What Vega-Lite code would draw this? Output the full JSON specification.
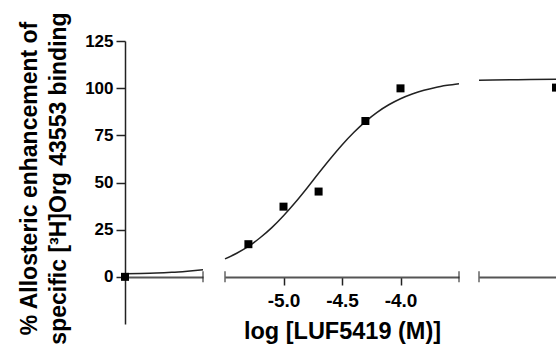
{
  "$schema": "https://vega.github.io/schema/vega-lite/v6.json",
  "autosize": {"type": "pad"},
  "padding": {"left": 18, "top": 11, "right": 0, "bottom": 0},
  "spacing": 16,
  "config": {
    "font": "Liberation Sans",
    "view": {"stroke": null},
    "axis": {
      "labelFont": "Liberation Sans",
      "titleFont": "Liberation Sans",
      "labelFontWeight": "bold",
      "titleFontWeight": "bold",
      "labelColor": "#000",
      "titleColor": "#000",
      "grid": false
    }
  },
  "datasets": {
    "fit": [
      {"seg": "ctrl", "logc": -7.5, "pct": 1.7},
      {"seg": "ctrl", "logc": -7.3, "pct": 1.8},
      {"seg": "ctrl", "logc": -7.1, "pct": 2.0},
      {"seg": "ctrl", "logc": -6.9, "pct": 2.4},
      {"seg": "ctrl", "logc": -6.7, "pct": 3.0},
      {"seg": "ctrl", "logc": -6.5, "pct": 3.7},
      {"seg": "mid", "logc": -5.5, "pct": 9.5},
      {"seg": "mid", "logc": -5.4, "pct": 12.5},
      {"seg": "mid", "logc": -5.3, "pct": 16.1},
      {"seg": "mid", "logc": -5.2, "pct": 20.7},
      {"seg": "mid", "logc": -5.1, "pct": 26.1},
      {"seg": "mid", "logc": -5.0, "pct": 32.4},
      {"seg": "mid", "logc": -4.9, "pct": 39.4},
      {"seg": "mid", "logc": -4.8, "pct": 47.0},
      {"seg": "mid", "logc": -4.7, "pct": 54.9},
      {"seg": "mid", "logc": -4.6, "pct": 62.6},
      {"seg": "mid", "logc": -4.5, "pct": 69.9},
      {"seg": "mid", "logc": -4.4, "pct": 76.5},
      {"seg": "mid", "logc": -4.3, "pct": 82.3},
      {"seg": "mid", "logc": -4.2, "pct": 87.2},
      {"seg": "mid", "logc": -4.1, "pct": 91.2},
      {"seg": "mid", "logc": -4.0, "pct": 94.4},
      {"seg": "mid", "logc": -3.9, "pct": 96.9},
      {"seg": "mid", "logc": -3.8, "pct": 98.9},
      {"seg": "mid", "logc": -3.7, "pct": 100.4},
      {"seg": "mid", "logc": -3.6, "pct": 101.5},
      {"seg": "mid", "logc": -3.5, "pct": 102.4},
      {"seg": "high", "logc": -3.0, "pct": 104.2},
      {"seg": "high", "logc": -2.5, "pct": 104.5},
      {"seg": "high", "logc": -2.0, "pct": 104.7}
    ],
    "pts": [
      {"seg": "ctrl", "logc": -7.5, "pct": 0},
      {"seg": "mid", "logc": -5.3, "pct": 17.3},
      {"seg": "mid", "logc": -5.0, "pct": 37.2},
      {"seg": "mid", "logc": -4.7, "pct": 45.2},
      {"seg": "mid", "logc": -4.3, "pct": 82.6},
      {"seg": "mid", "logc": -4.0, "pct": 99.9},
      {"seg": "high", "logc": -2.0, "pct": 100.3}
    ],
    "breaks": [
      {"seg": "ctrl", "logc": -6.5, "pct": 0},
      {"seg": "mid", "logc": -5.5, "pct": 0},
      {"seg": "mid", "logc": -3.5, "pct": 0},
      {"seg": "high", "logc": -3.0, "pct": 0}
    ]
  },
  "hconcat": [
    {
      "width": 78,
      "height": 283,
      "encoding": {
        "x": {"field": "logc", "type": "quantitative", "scale": {"domain": [-7.5, -6.5], "nice": false, "zero": false},
          "axis": {"values": [], "labels": false, "ticks": false, "title": null, "offset": -47, "domainColor": "#555", "domainWidth": 2}},
        "y": {"field": "pct", "type": "quantitative", "scale": {"domain": [-25, 125], "nice": false, "zero": false},
          "axis": {
            "values": [0, 25, 50, 75, 100, 125],
            "tickSize": 9, "tickWidth": 1.5, "tickColor": "#222",
            "domainColor": "#222", "domainWidth": 1.5,
            "labelPadding": 3, "labelFontSize": 17,
            "title": ["% Allosteric enhancement of", "specific [³H]Org 43553 binding"],
            "titleFontSize": 23, "titleLineHeight": 29,
            "titleAngle": -90, "titleAlign": "center", "titleBaseline": "middle",
            "titleX": -95.5, "titleY": 137
          }}
      },
      "layer": [
        {"data": {"name": "fit"}, "transform": [{"filter": "datum.seg == 'ctrl'"}],
         "mark": {"type": "line", "color": "#222", "strokeWidth": 1.5, "interpolate": "monotone"}},
        {"data": {"name": "pts"}, "transform": [{"filter": "datum.seg == 'ctrl'"}],
         "mark": {"type": "square", "size": 64, "color": "#000", "opacity": 1}},
        {"data": {"name": "breaks"}, "transform": [{"filter": "datum.seg == 'ctrl'"}],
         "mark": {"type": "tick", "orient": "vertical", "size": 11, "thickness": 1.5, "color": "#222"}}
      ]
    },
    {
      "width": 234,
      "height": 283,
      "encoding": {
        "x": {"field": "logc", "type": "quantitative", "scale": {"domain": [-5.5, -3.5], "nice": false, "zero": false},
          "axis": {
            "values": [-5, -4.5, -4], "format": ".1f",
            "labelExpr": "replace(datum.label, '\u2212', '-')",
            "tickSize": 8, "tickWidth": 1.5, "tickColor": "#222",
            "domainColor": "#555", "domainWidth": 2,
            "labelFontSize": 19, "labelPadding": 6,
            "title": "log [LUF5419 (M)]", "titleFontSize": 23.5, "titlePadding": 9,
            "offset": -47
          }},
        "y": {"field": "pct", "type": "quantitative", "scale": {"domain": [-25, 125], "nice": false, "zero": false}, "axis": null}
      },
      "layer": [
        {"data": {"name": "fit"}, "transform": [{"filter": "datum.seg == 'mid'"}],
         "mark": {"type": "line", "color": "#222", "strokeWidth": 1.5, "interpolate": "monotone"}},
        {"data": {"name": "pts"}, "transform": [{"filter": "datum.seg == 'mid'"}],
         "mark": {"type": "square", "size": 64, "color": "#000", "opacity": 1}},
        {"data": {"name": "breaks"}, "transform": [{"filter": "datum.seg == 'mid'"}],
         "mark": {"type": "tick", "orient": "vertical", "size": 11, "thickness": 1.5, "color": "#222"}}
      ]
    },
    {
      "width": 77,
      "height": 283,
      "encoding": {
        "x": {"field": "logc", "type": "quantitative", "scale": {"domain": [-3.0, -2.0], "nice": false, "zero": false},
          "axis": {"values": [], "labels": false, "ticks": false, "title": null, "offset": -47, "domainColor": "#555", "domainWidth": 2}},
        "y": {"field": "pct", "type": "quantitative", "scale": {"domain": [-25, 125], "nice": false, "zero": false}, "axis": null}
      },
      "layer": [
        {"data": {"name": "fit"}, "transform": [{"filter": "datum.seg == 'high'"}],
         "mark": {"type": "line", "color": "#222", "strokeWidth": 1.5, "interpolate": "monotone", "clip": true}},
        {"data": {"name": "pts"}, "transform": [{"filter": "datum.seg == 'high'"}],
         "mark": {"type": "square", "size": 64, "color": "#000", "opacity": 1, "clip": true}},
        {"data": {"name": "breaks"}, "transform": [{"filter": "datum.seg == 'high'"}],
         "mark": {"type": "tick", "orient": "vertical", "size": 11, "thickness": 1.5, "color": "#222"}}
      ]
    }
  ]
}
